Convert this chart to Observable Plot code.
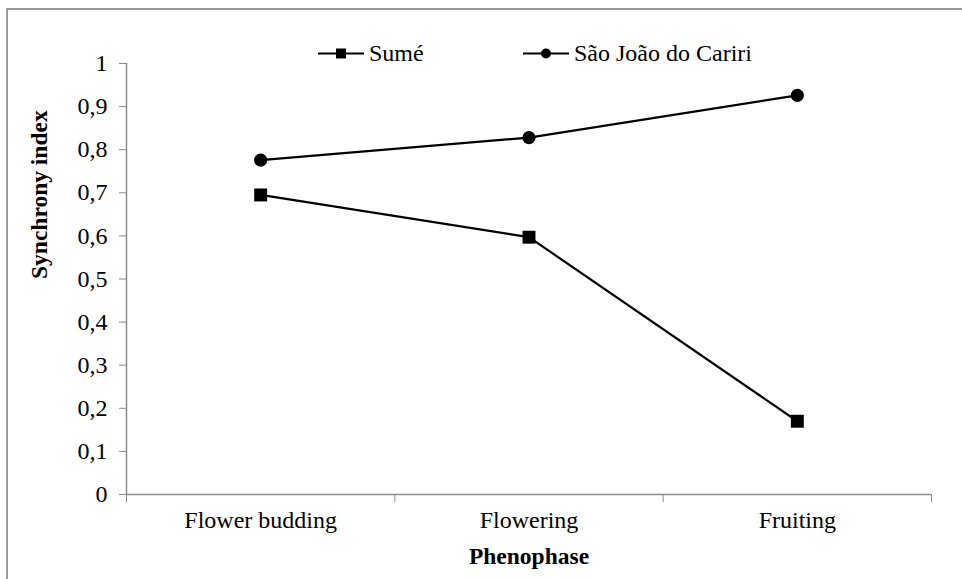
<!DOCTYPE html>
<html><head><meta charset="utf-8">
<script src="https://cdn.jsdelivr.net/npm/d3@7"></script>
<script src="https://cdn.jsdelivr.net/npm/@observablehq/plot@0.6"></script>
<style>
body{margin:0;background:#fff;}
#wrap{position:relative;width:962px;height:579px;overflow:hidden;font-family:'Liberation Serif';}
#frame{position:absolute;left:6px;top:8px;width:1200px;height:1200px;border-left:2px solid #9a9a9a;border-top:2px solid #9a9a9a;}
#chart{position:absolute;left:0;top:0;}
.leg{position:absolute;top:39px;height:28px;display:flex;align-items:center;font-size:24px;color:#000;white-space:nowrap;font-family:'Liberation Serif';}
.leg svg{margin-right:5px;}
</style></head>
<body><div id="wrap"><div id="frame"></div><div id="chart"></div></div>
<script>
const phases = ["Flower budding", "Flowering", "Fruiting"];
const seriesNames = ["Sumé", "São João do Cariri"];
const sumeValues = [0.695, 0.597, 0.170];
const saoJoaoValues = [0.776, 0.828, 0.926];
const yTicks = [0, 0.1, 0.2, 0.3, 0.4, 0.5, 0.6, 0.7, 0.8, 0.9, 1];
const yTickLabels = ["0", "0,1", "0,2", "0,3", "0,4", "0,5", "0,6", "0,7", "0,8", "0,9", "1"];

const rows = [];
phases.forEach((p, i) => {
  rows.push({phase: p, i, s: seriesNames[0], v: sumeValues[i]});
  rows.push({phase: p, i, s: seriesNames[1], v: saoJoaoValues[i]});
});
const boundaries = d3.range(phases.length + 1);
const centers = phases.map((p, i) => i + 0.5);
const gray = "#8c8c8c";
const serif = "Liberation Serif";

const chart = Plot.plot({
  width: 962, height: 579,
  marginLeft: 126, marginRight: 31, marginTop: 63, marginBottom: 85,
  x: {type: "linear", domain: [0, phases.length], axis: null},
  y: {domain: [0, 1], axis: null},
  style: {fontFamily: serif, fontSize: "24px", color: "#000", background: "transparent", overflow: "visible"},
  marks: [
    Plot.axisY({ticks: yTicks, tickFormat: d => yTickLabels[yTicks.indexOf(d)], tickSize: 7, tickPadding: 12, stroke: gray, fill: "#000", fontFamily: serif, fontSize: 24, fontVariant: "normal", label: null}),
    Plot.axisX({ticks: boundaries, tickSize: 8, tickFormat: () => "", stroke: gray, label: null}),
    Plot.axisX({ticks: centers, tickSize: 0, tickPadding: 16, tickFormat: d => phases[Math.floor(d)], fill: "#000", fontFamily: serif, fontSize: 24, fontVariant: "normal", label: null}),
    Plot.ruleX([0], {stroke: gray, strokeWidth: 1.5}),
    Plot.ruleY([0], {stroke: gray, strokeWidth: 1.5}),
    Plot.text(["Synchrony index"], {text: d => d, frameAnchor: "left", rotate: -90, dx: -87, fontWeight: "bold", fontFamily: serif, fontSize: 23.5, fill: "#000"}),
    Plot.text(["Phenophase"], {text: d => d, frameAnchor: "bottom", dy: 69, fontWeight: "bold", fontFamily: serif, fontSize: 23.5, fill: "#000"}),
    Plot.line(rows, {x: d => d.i + 0.5, y: "v", z: "s", stroke: "#000", strokeWidth: 2.2}),
    Plot.dot(rows.filter(d => d.s === seriesNames[0]), {x: d => d.i + 0.5, y: "v", symbol: "square", r: 7.3, fill: "#000", stroke: "none"}),
    Plot.dot(rows.filter(d => d.s === seriesNames[1]), {x: d => d.i + 0.5, y: "v", symbol: "circle", r: 6.6, fill: "#000", stroke: "none"})
  ]
});
document.getElementById("chart").appendChild(chart);

// legend
const wrap = document.getElementById("wrap");
const legendLeft = [318, 523];
seriesNames.forEach((name, k) => {
  const div = document.createElement("div");
  div.className = "leg";
  div.style.left = legendLeft[k] + "px";
  const marker = k === 0
    ? '<rect x="18" y="2.5" width="10" height="10" fill="#000"/>'
    : '<circle cx="23" cy="7.5" r="5" fill="#000"/>';
  div.innerHTML = '<svg width="46" height="15"><line x1="0" x2="46" y1="7.5" y2="7.5" stroke="#000" stroke-width="2.2"/>' + marker + '</svg><span>' + name + '</span>';
  wrap.appendChild(div);
});
</script>
</body></html>
